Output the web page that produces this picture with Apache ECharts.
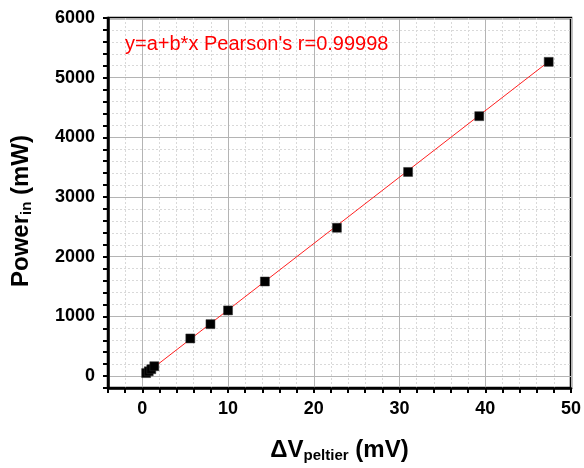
<!DOCTYPE html>
<html>
<head>
<meta charset="utf-8">
<script src="https://cdn.jsdelivr.net/npm/echarts@6/dist/echarts.min.js"></script>
<style>
    html, body { margin: 0; padding: 0; background: #fff; }
    #main { width: 584px; height: 468px; }
</style>
</head>
<body>
<div id="main"></div>
<script>
// data
var dvPeltier = [0.45, 0.75, 1.05, 1.4, 5.6, 7.95, 10.0, 14.3, 22.7, 31.0, 39.3, 47.4];
var powerIn   = [50, 80, 115, 165, 630, 870, 1100, 1585, 2485, 3420, 4355, 5265];
// fitted line end points (linear fit drawn in red)
var fitX = [0.45, 47.4];
var fitY = [45, 5270];
var xTickLabels = [0, 10, 20, 30, 40, 50];
var yTickLabels = [0, 1000, 2000, 3000, 4000, 5000, 6000];

var font = 'Arial, "Liberation Sans", sans-serif';
var minorCol = '#d9d9d9', majorCol = '#b4b4b4', none = 'rgba(0,0,0,0)';

function pairs(xs, ys) {
    var out = [];
    for (var i = 0; i < xs.length; i++) out.push([xs[i], ys[i]]);
    return out;
}

var titleRich = {
    b: {fontSize: 24, fontWeight: 'bold', fontFamily: font, color: '#000', lineHeight: 25, verticalAlign: 'top'},
    s: {fontSize: 15, fontWeight: 'bold', fontFamily: font, color: '#000', lineHeight: 16, verticalAlign: 'bottom'}
};

var myChart = echarts.init(document.getElementById('main'));
var option = {
    animation: false,
    grid: {left: 108, right: 12, top: 18, bottom: 75, show: true,
        borderColor: '#000', borderWidth: 2.5, backgroundColor: 'transparent'},
    title: {
        text: "y=a+b*x Pearson's r=0.99998",
        left: 125, top: 34, padding: 0,
        textStyle: {color: '#ff0000', fontSize: 20, fontWeight: 'normal', fontFamily: font}
    },
    xAxis: [{
        type: 'value', min: -4, max: 50, interval: 2,
        name: '{b|\u0394V}{s|peltier}{b| (mV)}',
        nameLocation: 'middle', nameGap: 50,
        nameTextStyle: {rich: titleRich},
        axisLine: {onZero: false, lineStyle: {color: '#000', width: 2.5}},
        axisTick: {inside: false, length: 5, lineStyle: {color: '#000', width: 2}},
        axisLabel: {
            margin: 12, color: '#000', fontSize: 18, fontWeight: 'bold', fontFamily: font,
            formatter: function (v) { return xTickLabels.indexOf(v) >= 0 ? String(v) : ''; }
        },
        splitLine: {show: true, lineStyle: {type: [2, 2], width: 1,
            color: [minorCol, minorCol, none, minorCol, minorCol]}}
    }, {
        type: 'value', min: -4, max: 50, interval: 2, position: 'bottom',
        axisLine: {show: false}, axisTick: {show: false}, axisLabel: {show: false},
        splitLine: {show: true, lineStyle: {type: 'solid', width: 1,
            color: [none, none, majorCol, none, none]}}
    }],
    yAxis: [{
        type: 'value', min: -200, max: 6000, interval: 200,
        name: '{b|Power}{s|in}{b| (mW)}',
        nameLocation: 'middle', nameGap: 74, nameRotate: 90,
        nameTextStyle: {rich: titleRich, padding: [0, 16, 0, 0]},
        axisLine: {onZero: false, lineStyle: {color: '#000', width: 2.5}},
        axisTick: {inside: false, length: 5, lineStyle: {color: '#000', width: 2}},
        axisLabel: {
            margin: 13, color: '#000', fontSize: 18, fontWeight: 'bold', fontFamily: font,
            formatter: function (v) { return yTickLabels.indexOf(v) >= 0 ? String(v) : ''; }
        },
        splitLine: {show: true, lineStyle: {type: [2, 2], width: 1,
            color: [minorCol, none, minorCol, minorCol, minorCol]}}
    }, {
        type: 'value', min: -200, max: 6000, interval: 200, position: 'left',
        axisLine: {show: false}, axisTick: {show: false}, axisLabel: {show: false},
        splitLine: {show: true, lineStyle: {type: 'solid', width: 1,
            color: [none, majorCol, none, none, none]}}
    }],
    series: [{
        type: 'line', name: 'fit',
        data: pairs(fitX, fitY),
        showSymbol: false, symbol: 'none',
        lineStyle: {color: '#ff2020', width: 1},
        z: 3
    }, {
        type: 'scatter', name: 'data',
        data: pairs(dvPeltier, powerIn),
        symbol: 'rect', symbolSize: 9,
        itemStyle: {color: '#000', borderColor: '#333', borderWidth: 0.5, opacity: 1},
        z: 4
    }]
};
myChart.setOption(option);
</script>
</body>
</html>
